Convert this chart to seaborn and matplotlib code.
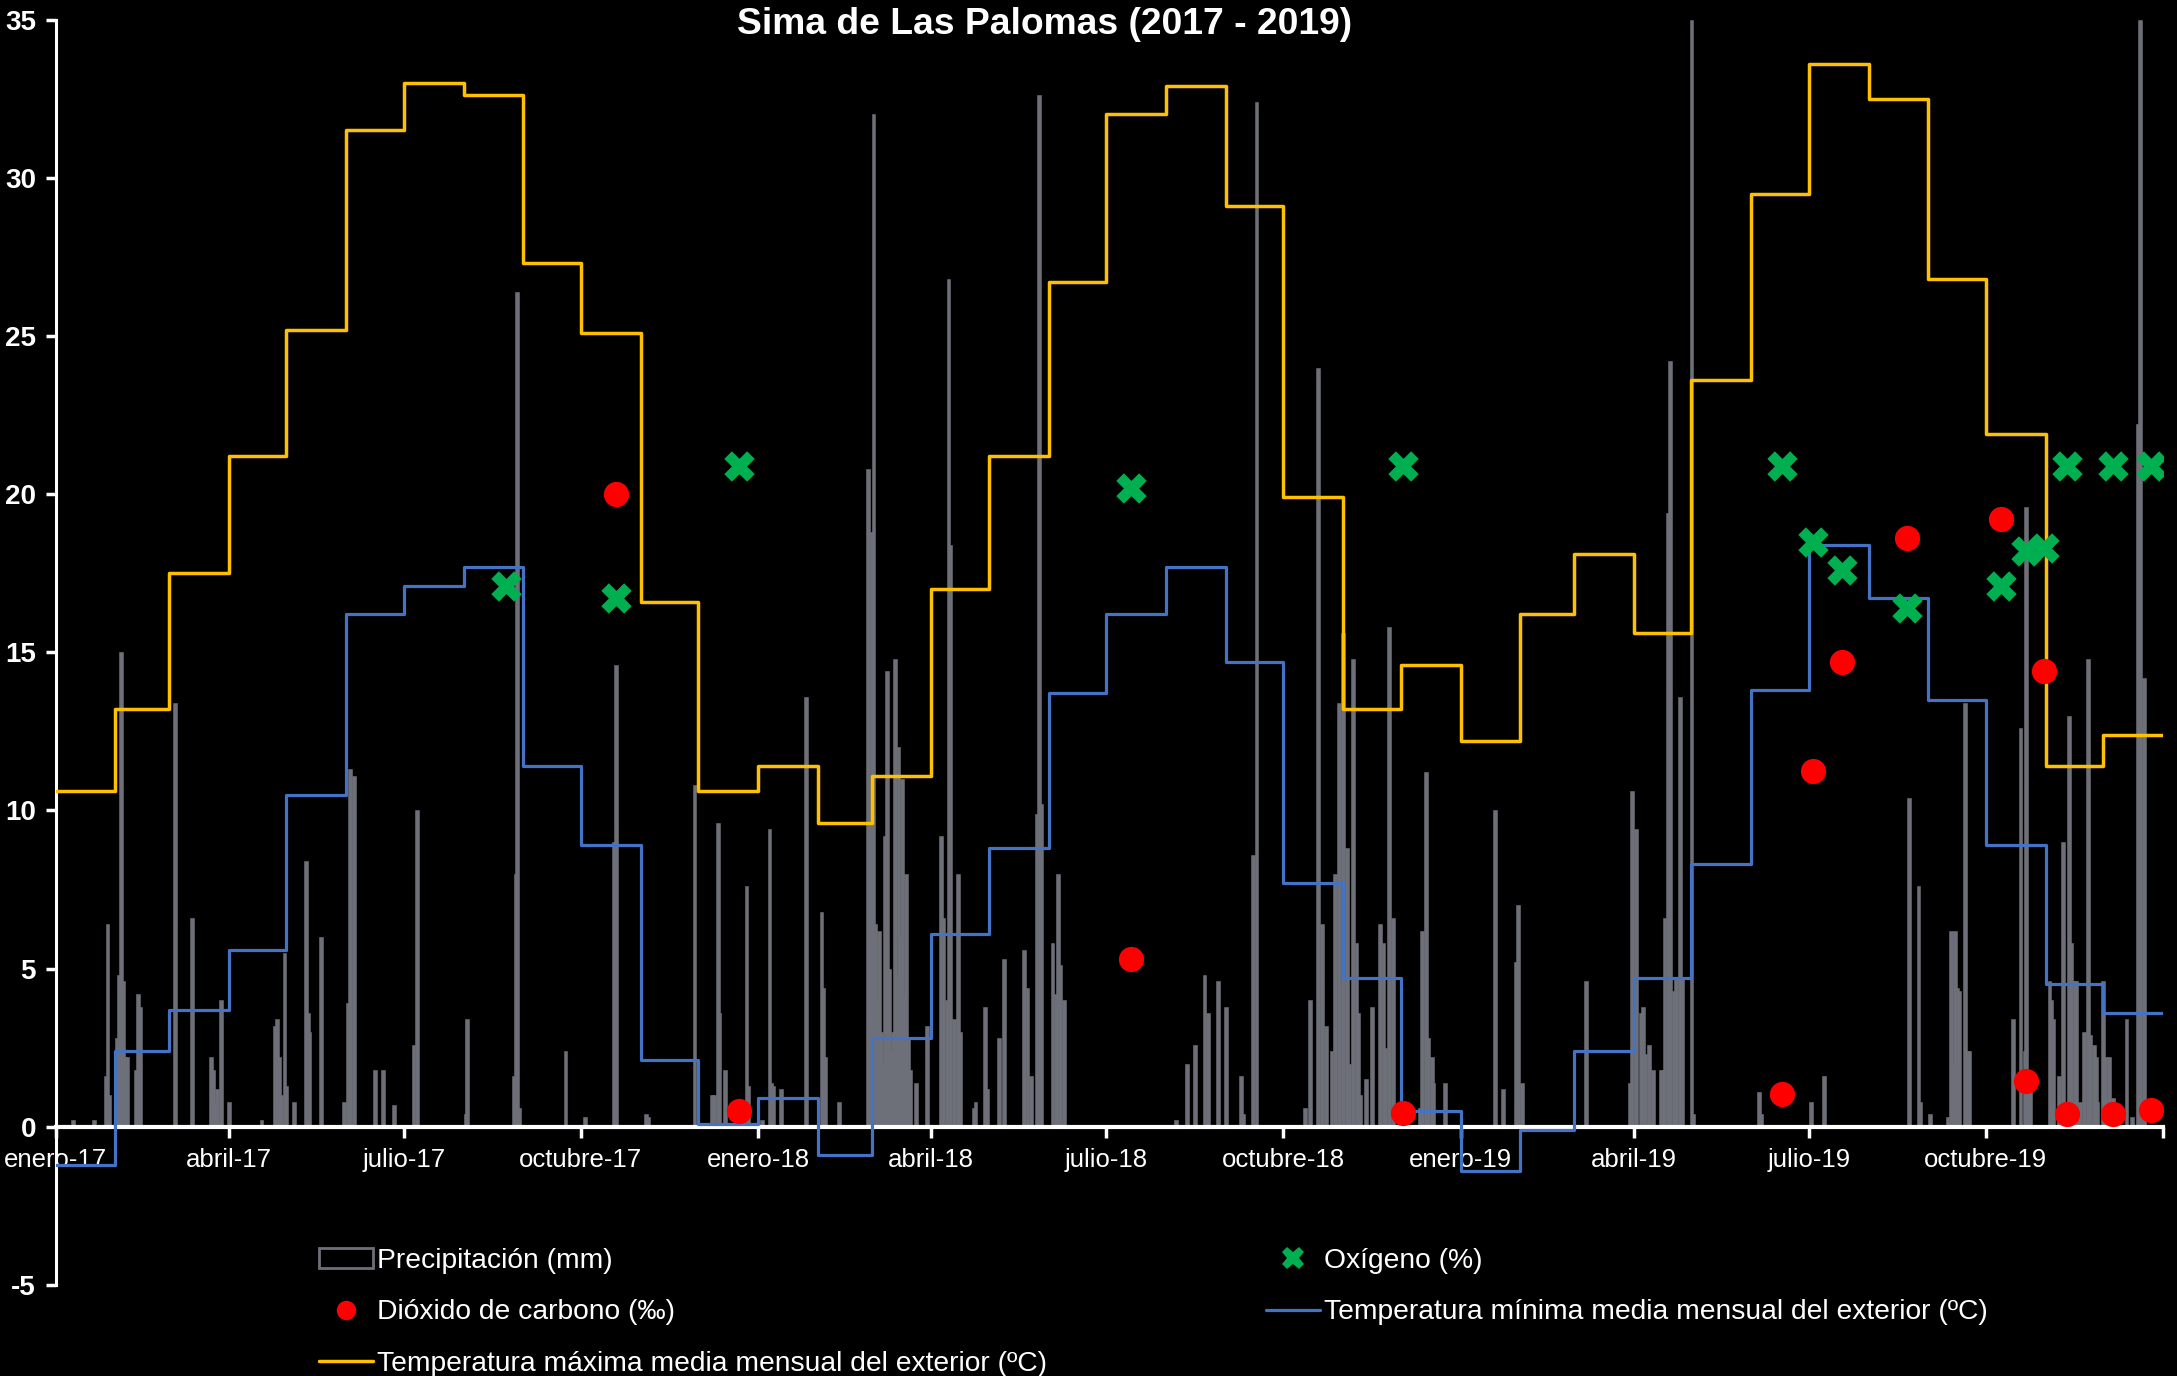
import numpy as np
import pandas as pd
import matplotlib
matplotlib.use("Agg")
import matplotlib.pyplot as plt
from matplotlib import font_manager
from matplotlib.lines import Line2D
from matplotlib.patches import Patch
import seaborn as sns

# ---------------------------------------------------------------------------
# Datos
# ---------------------------------------------------------------------------
TITLE = "Sima de Las Palomas (2017 - 2019)"
START = "2017-01-01"

# Temperaturas medias mensuales del exterior (ºC), enero-2017 ... diciembre-2019
tmax_monthly = [
    10.6, 13.2, 17.5, 21.2, 25.2, 31.5, 33.0, 32.6, 27.3, 25.1, 16.6, 10.6,
    11.4, 9.6, 11.1, 17.0, 21.2, 26.7, 32.0, 32.9, 29.1, 19.9, 13.2, 14.6,
    12.2, 16.2, 18.1, 15.6, 23.6, 29.5, 33.6, 32.5, 26.8, 21.9, 11.4, 12.4,
]
tmin_monthly = [
    -1.2, 2.4, 3.7, 5.6, 10.5, 16.2, 17.1, 17.7, 11.4, 8.9, 2.1, 0.1,
    0.9, -0.9, 2.8, 6.1, 8.8, 13.7, 16.2, 17.7, 14.7, 7.7, 4.7, 0.5,
    -1.4, -0.1, 2.4, 4.7, 8.3, 13.8, 18.4, 16.7, 13.5, 8.9, 4.5, 3.6,
]

# Precipitación diaria (mm): (día del año contado desde 0, mm)
rain_2017 = [
    (9, 0.2), (20, 0.2), (26, 1.6), (27, 6.4), (28, 1.0), (32, 2.8), (33, 4.8),
    (34, 15.0), (35, 4.6), (36, 2.2), (37, 2.2), (42, 1.8), (43, 4.2), (44, 3.8),
    (62, 13.4), (71, 6.6), (81, 2.2), (82, 1.8), (83, 0.8), (84, 1.2), (86, 4.0),
    (90, 0.8), (107, 0.2), (114, 3.2), (115, 3.4), (116, 2.2), (117, 1.0),
    (119, 5.5), (120, 1.3), (124, 0.8), (130, 8.4), (131, 3.6), (132, 3.0),
    (138, 6.0), (150, 0.8), (152, 3.9), (153, 11.3), (155, 11.1), (166, 1.8),
    (170, 1.8), (176, 0.7), (186, 2.6), (188, 10.0), (213, 0.4), (214, 3.4),
    (238, 1.6), (239, 8.0), (240, 26.4), (241, 0.6), (265, 2.4), (275, 0.3),
    (290, 9.0), (291, 14.6), (307, 0.4), (308, 0.3), (332, 10.8), (341, 1.0),
    (342, 1.0), (344, 9.6), (345, 3.6), (348, 1.8), (359, 7.6), (360, 1.3),
]
rain_2018 = [
    (2, 0.2), (6, 9.4), (7, 1.4), (8, 1.3), (12, 1.2), (25, 13.6), (33, 6.8),
    (34, 4.4), (35, 2.2), (42, 0.8), (57, 20.8), (58, 9.6), (59, 18.8),
    (60, 32.0), (61, 6.4), (62, 4.0), (63, 6.2), (64, 3.0), (65, 2.0), (66, 9.2),
    (67, 14.4), (68, 5.0), (69, 2.4), (70, 3.0), (71, 14.8), (72, 4.8),
    (73, 12.0), (74, 6.0), (75, 11.0), (76, 4.2), (77, 8.0), (78, 2.8),
    (79, 1.8), (82, 1.4), (88, 3.2), (95, 9.2), (96, 6.6), (98, 4.0),
    (99, 26.8), (100, 18.4), (102, 3.4), (104, 8.0), (105, 3.0), (112, 0.6),
    (113, 0.8), (118, 3.8), (119, 1.2), (125, 2.8), (128, 5.3), (138, 5.6),
    (140, 4.4), (142, 1.6), (145, 9.9), (146, 32.6), (147, 10.2), (153, 5.8),
    (155, 4.2), (156, 8.0), (157, 5.1), (159, 4.0), (217, 0.2), (223, 2.0),
    (227, 2.6), (232, 4.8), (234, 3.6), (239, 4.6), (243, 3.8), (251, 1.6),
    (252, 0.4), (257, 8.6), (259, 32.4), (284, 0.6), (287, 4.0), (291, 24.0),
    (293, 6.4), (295, 3.2), (298, 2.4), (300, 8.0), (302, 13.4), (304, 15.6),
    (306, 8.8), (307, 2.0), (309, 14.8), (311, 5.8), (312, 3.6), (313, 1.0),
    (316, 1.5), (319, 3.8), (323, 6.4), (325, 5.8), (326, 2.5), (328, 15.8),
    (330, 6.6), (334, 0.4), (336, 0.8), (344, 0.6), (345, 6.2), (347, 11.2),
    (348, 2.8), (350, 2.2), (351, 1.4), (357, 1.4),
]
rain_2019 = [
    (18, 10.0), (22, 1.2), (29, 5.2), (30, 7.0), (32, 1.4), (65, 4.6),
    (88, 1.4), (89, 10.6), (91, 9.4), (94, 3.6), (95, 3.8), (96, 2.3),
    (98, 2.6), (100, 1.8), (104, 1.8), (105, 1.8), (106, 6.6), (108, 19.4),
    (109, 24.2), (111, 4.3), (112, 4.7), (114, 13.6), (115, 4.7), (120, 35.0),
    (121, 0.4), (155, 1.1), (156, 0.4), (182, 0.8), (189, 1.6), (233, 10.4),
    (238, 7.6), (239, 0.8), (244, 0.4), (253, 0.3), (255, 6.2), (256, 2.0),
    (257, 6.2), (258, 4.4), (259, 4.3), (262, 13.4), (263, 2.4), (264, 2.4),
    (287, 3.4), (291, 12.6), (293, 2.4), (294, 19.6), (295, 1.1), (296, 1.1),
    (306, 4.6), (307, 4.0), (308, 3.4), (311, 1.6), (313, 9.0), (316, 13.0),
    (317, 5.8), (319, 4.6), (320, 4.6), (322, 0.8), (324, 3.0), (326, 14.8),
    (327, 2.9), (329, 2.6), (330, 2.2), (331, 0.8), (334, 4.6), (335, 2.2),
    (337, 2.2), (339, 0.9), (346, 3.4), (349, 0.3), (352, 22.2), (353, 35.0),
    (355, 14.2),
]

# Muestreos del aire de la cavidad
o2_dates = [
    "2017-08-23", "2017-10-19", "2017-12-22", "2018-07-14", "2018-12-02",
    "2019-06-17", "2019-07-03", "2019-07-18", "2019-08-21", "2019-10-09",
    "2019-10-22", "2019-10-31", "2019-11-12", "2019-12-06", "2019-12-26",
]
o2_pct = [17.1, 16.7, 20.9, 20.2, 20.9, 20.9, 18.5, 17.6, 16.4, 17.1,
          18.2, 18.3, 20.9, 20.9, 20.9]
co2_dates = [
    "2017-10-19", "2017-12-22", "2018-07-14", "2018-12-02", "2019-06-17",
    "2019-07-03", "2019-07-18", "2019-08-21", "2019-10-09", "2019-10-22",
    "2019-10-31", "2019-11-12", "2019-12-06", "2019-12-26",
]
co2_permil = [20.0, 0.5, 5.3, 0.45, 1.05, 11.25, 14.7, 18.6, 19.2, 1.45,
              14.4, 0.42, 0.4, 0.53]

month_names = ["enero", "abril", "julio", "octubre"]

LABELS = {
    "rain": "Precipitación (mm)",
    "co2": "Dióxido de carbono (‰)",
    "tmax": "Temperatura máxima media mensual del exterior (ºC)",
    "o2": "Oxígeno (%)",
    "tmin": "Temperatura mínima media mensual del exterior (ºC)",
}

COL_RAIN = "#6E7079"
COL_TMAX = "#FFC000"
COL_TMIN = "#4472C4"
COL_CO2 = "#FF0000"
COL_O2 = "#00B050"

# ---------------------------------------------------------------------------
# Preparación
# ---------------------------------------------------------------------------
start = pd.Timestamp(START)
end = pd.Timestamp("2020-01-01")
total_days = (end - start).days


def to_day(dates):
    return (pd.to_datetime(pd.Series(dates)) - start).dt.days.to_numpy(dtype=float)


year_offset = {2017: 0, 2018: 365, 2019: 730}
rain_x, rain_mm = [], []
for year, events in [(2017, rain_2017), (2018, rain_2018), (2019, rain_2019)]:
    for d, mm in events:
        rain_x.append(year_offset[year] + d)
        rain_mm.append(mm)

months = pd.date_range(START, periods=len(tmax_monthly), freq="MS")
month_x = list((months - start).days) + [total_days]
temps = pd.DataFrame({
    "x": month_x,
    "tmax": tmax_monthly + [tmax_monthly[-1]],
    "tmin": tmin_monthly + [tmin_monthly[-1]],
})
o2_df = pd.DataFrame({"x": to_day(o2_dates), "v": o2_pct})
co2_df = pd.DataFrame({"x": to_day(co2_dates), "v": co2_permil})

ticks = pd.date_range(START, end, freq="QS")
tick_x = (ticks - start).days
tick_lab = [f"{month_names[(t.month - 1) // 3]}-{t.strftime('%y')}" for t in ticks]
tick_lab[-1] = ""

# ---------------------------------------------------------------------------
# Estilo
# ---------------------------------------------------------------------------
sns.set_theme(style="dark", rc={
    "axes.facecolor": "black",
    "figure.facecolor": "black",
    "savefig.facecolor": "black",
    "text.color": "white",
    "axes.labelcolor": "white",
    "xtick.color": "white",
    "ytick.color": "white",
    "axes.edgecolor": "white",
    "axes.unicode_minus": False,
})
available = {f.name for f in font_manager.fontManager.ttflist}
base_font = "Liberation Sans Narrow" if "Liberation Sans Narrow" in available else "Liberation Sans"
plt.rcParams["font.family"] = [base_font, "DejaVu Sans"]

W, H = 2177, 1376
fig = plt.figure(figsize=(W / 100, H / 100), dpi=100)
left, right, top, bottom = 55.5, 2163, 19.5, 1285
ax = fig.add_axes([left / W, 1 - bottom / H, (right - left) / W, (bottom - top) / H])
ax.set_facecolor("black")

# Precipitación diaria
ax.bar(rain_x, rain_mm, width=2.0, color=COL_RAIN, edgecolor=COL_RAIN,
       linewidth=0.4, zorder=1)

# Temperaturas mensuales en escalones
sns.lineplot(data=temps, x="x", y="tmax", ax=ax, color=COL_TMAX, linewidth=2.5,
             drawstyle="steps-post", estimator=None, sort=False, legend=False, zorder=3)
sns.lineplot(data=temps, x="x", y="tmin", ax=ax, color=COL_TMIN, linewidth=2.3,
             drawstyle="steps-post", estimator=None, sort=False, legend=False, zorder=3)

# Gases
sns.scatterplot(data=co2_df, x="x", y="v", ax=ax, color=COL_CO2, marker="o",
                s=330, linewidth=0, legend=False, zorder=5)
sns.scatterplot(data=o2_df, x="x", y="v", ax=ax, color=COL_O2, marker="X",
                s=480, linewidth=0, legend=False, zorder=6)

# Ejes
ax.set_xlim(0, total_days)
ax.set_ylim(-5, 35)
ax.set_xlabel("")
ax.set_ylabel("")
ax.grid(False)
for side in ("top", "right"):
    ax.spines[side].set_visible(False)
ax.spines["bottom"].set_position(("data", 0))
ax.spines["bottom"].set_linewidth(3)
ax.spines["left"].set_linewidth(2.2)
ax.spines["bottom"].set_color("white")
ax.spines["left"].set_color("white")

ax.set_xticks(tick_x)
ax.set_xticklabels(tick_lab)
ax.set_yticks(np.arange(-5, 36, 5))
ax.tick_params(axis="x", direction="out", length=8, width=2.5, pad=7,
               labelsize=18.5, colors="white", bottom=True)
ax.tick_params(axis="y", direction="out", length=7, width=2.5, pad=7,
               labelsize=20, colors="white", left=True)
for lab in ax.get_yticklabels():
    lab.set_fontweight("bold")

fig.text(1045 / W, 1 - 25 / H, TITLE, ha="center", va="center",
         fontsize=26.8, fontweight="bold", color="white")

# Leyenda en dos columnas
h_rain = Patch(facecolor="black", edgecolor=COL_RAIN, linewidth=2)
h_co2 = Line2D([], [], linestyle="none", marker="o", markersize=14,
               markerfacecolor=COL_CO2, markeredgewidth=0)
h_tmax = Line2D([], [], color=COL_TMAX, linewidth=2.5)
h_o2 = Line2D([], [], linestyle="none", marker="X", markersize=16,
              markerfacecolor=COL_O2, markeredgewidth=0)
h_tmin = Line2D([], [], color=COL_TMIN, linewidth=2.3)

common = dict(loc="upper left", frameon=False, fontsize=20.3, handlelength=1.9,
              handletextpad=0.15, labelspacing=0.9, borderpad=0, borderaxespad=0,
              labelcolor="white")
leg1 = fig.legend([h_rain, h_co2, h_tmax],
                  [LABELS["rain"], LABELS["co2"], LABELS["tmax"]],
                  bbox_to_anchor=(319 / W, 1 - 1248 / H), **common)
leg2 = fig.legend([h_o2, h_tmin], [LABELS["o2"], LABELS["tmin"]],
                  bbox_to_anchor=(1266 / W, 1 - 1248 / H), **common)

fig.savefig("out.png", dpi=100, facecolor="black")
